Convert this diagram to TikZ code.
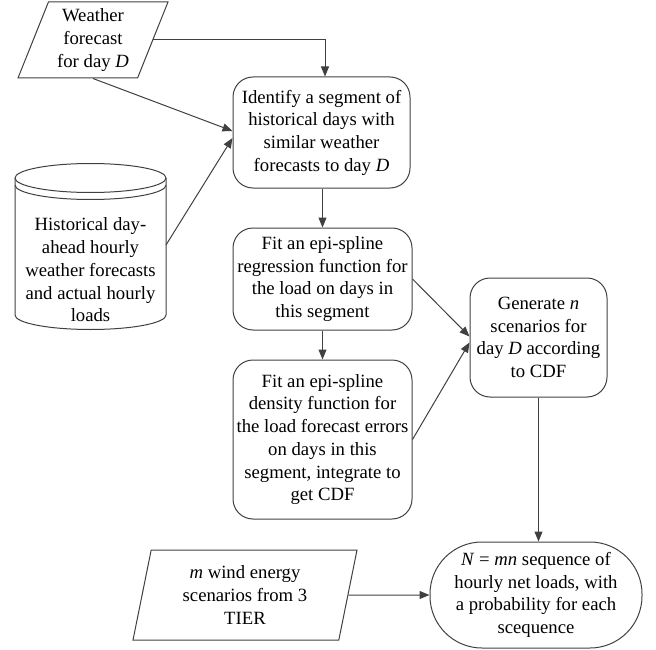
\documentclass[tikz,border=0pt]{standalone}
\usepackage{fontspec}
\setmainfont{Liberation Serif}
\usetikzlibrary{shapes.geometric,arrows.meta,calc}
\definecolor{lc}{RGB}{64,64,64}
\begin{document}
\begin{tikzpicture}[x=1pt,y=-1pt,
  every node/.style={font=\fontsize{18.7}{22.7}\selectfont, align=center, inner sep=0pt},
  line/.style={draw=lc, line width=1pt},
  arr/.style={line, -{Triangle[length=10pt,width=8pt]}},
  proc/.style={draw=lc, line width=1pt, rounded corners=20pt, rectangle},
  io/.style={trapezium, draw=lc, line width=1pt, trapezium stretches body}]
\useasboundingbox (0,0) rectangle (656,650);

\node[io, trapezium left angle=64, trapezium right angle=116,
      minimum width=150pt, minimum height=76pt] (wf) at (93,40)
      {Weather\\forecast\\for day \textit{D}};

\node[proc, minimum width=177pt, minimum height=111pt] (b1) at (321.5,132.5)
      {Identify a segment of\\historical days with\\similar weather\\forecasts to day \textit{D}};
\node[proc, minimum width=179pt, minimum height=102pt] (b2) at (322.5,279)
      {Fit an epi-spline\\regression function for\\the load on days in\\this segment};
\node[proc, minimum width=179pt, minimum height=159pt] (b3) at (322.5,439.5)
      {Fit an epi-spline\\density function for\\the load forecast errors\\on days in this\\segment, integrate to\\get CDF};
\node[proc, minimum width=137pt, minimum height=119pt] (b4) at (538.5,337.5)
      {Generate \textit{n}\\scenarios for\\day \textit{D} according\\to CDF};
\node[proc, rounded corners=52pt, minimum width=212pt, minimum height=106pt] (term) at (536,595)
      {\textit{N} = \textit{mn} sequence of\\hourly net loads, with\\a probability for each\\scequence};
\node[io, trapezium left angle=72.7, trapezium right angle=107.3,
      minimum width=224pt, minimum height=90pt] (wind) at (245,595)
      {\textit{m} wind energy\\scenarios from 3\\TIER};

% cylinder
\draw[line] (90.5,178) ellipse [x radius=75.5pt, y radius=14.5pt];
\draw[line] (15,185) arc[start angle=180, end angle=360, x radius=75.5pt, y radius=14.5pt];
\draw[line] (15,178) -- (15,315) arc[start angle=180, end angle=360, x radius=75.5pt, y radius=14.5pt] -- (166,178);
\node (db) at (90.5,270) {Historical day-\\ahead hourly\\weather forecasts\\and actual hourly\\loads};
\coordinate (dbr) at (166,245);

% connectors
\draw[arr] (wf.east) -| ($(b1.north)+(3.5,0)$);
\draw[arr] (wf.south) -- ($(b1.west)+(0,-1.5)$);
\draw[arr] (dbr) -- ($(b1.west)+(0,5.5)$);
\draw[arr] (b2.north |- b1.south) -- (b2.north);
\draw[arr] (b2.south) -- (b3.north);
\draw[arr] (b2.east) -- ($(b4.west)+(0,-1)$);
\draw[arr] (b3.east) -- ($(b4.west)+(0,5)$);
\draw[arr] (b4.south) -- (b4.south |- term.north);
\draw[arr] (wind.east) -- (term.west);
\end{tikzpicture}
\end{document}
